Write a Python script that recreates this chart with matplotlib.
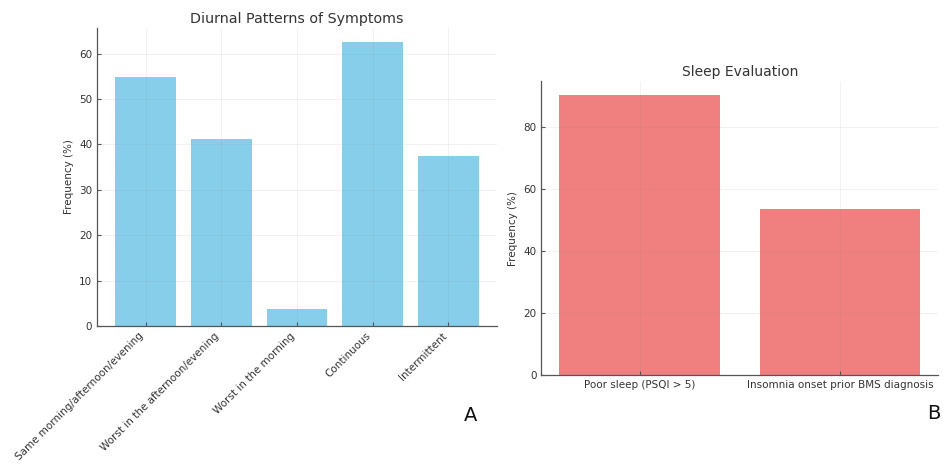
import matplotlib.pyplot as plt

# Panel A: diurnal pattern of symptoms
pattern_labels = ['Same morning/afternoon/evening',
                  'Worst in the afternoon/evening',
                  'Worst in the morning',
                  'Continuous',
                  'Intermittent']
pattern_freq = [54.8, 41.3, 3.8, 62.5, 37.4]

# Panel B: sleep evaluation
sleep_labels = ['Poor sleep (PSQI > 5)', 'Insomnia onset prior BMS diagnosis']
sleep_freq = [90.4, 53.8]

text_col = '#333333'
spine_col = '#555555'


def style_axes(ax):
    for side in ['top', 'right']:
        ax.spines[side].set_visible(False)
    for side in ['left', 'bottom']:
        ax.spines[side].set_color(spine_col)
        ax.spines[side].set_linewidth(0.9)
    ax.grid(True, color='#888888', linewidth=0.5, alpha=0.15)
    ax.set_axisbelow(False)
    ax.tick_params(axis='both', labelsize=7.5, colors=spine_col,
                   labelcolor=text_col, direction='in', length=3, width=0.8)


fig = plt.figure(figsize=(9.43, 4.69), dpi=100)

ax1 = fig.add_axes([0.103, 0.305, 0.424, 0.635])
ax1.bar(range(len(pattern_freq)), pattern_freq, color='skyblue', zorder=1)
ax1.set_xticks(range(len(pattern_labels)))
ax1.set_xticklabels(pattern_labels, rotation=45, ha='right')
ax1.set_yticks([0, 10, 20, 30, 40, 50, 60])
ax1.set_ylabel('Frequency (%)', fontsize=7.5, color=text_col)
ax1.set_title('Diurnal Patterns of Symptoms', fontsize=10.3, color=text_col, pad=4)
style_axes(ax1)

ax2 = fig.add_axes([0.574, 0.200, 0.421, 0.627])
ax2.bar(range(len(sleep_freq)), sleep_freq, color='lightcoral', zorder=1)
ax2.set_xticks(range(len(sleep_labels)))
ax2.set_xticklabels(sleep_labels)
ax2.set_yticks([0, 20, 40, 60, 80])
ax2.set_ylabel('Frequency (%)', fontsize=7.5, color=text_col)
ax2.set_title('Sleep Evaluation', fontsize=10, color=text_col, pad=4)
style_axes(ax2)

fig.text(0.499, 0.115, 'A', fontsize=14, ha='center', va='center', color='#111111')
fig.text(0.990, 0.119, 'B', fontsize=14, ha='center', va='center', color='#111111')

fig.savefig('out.png', dpi=100)
